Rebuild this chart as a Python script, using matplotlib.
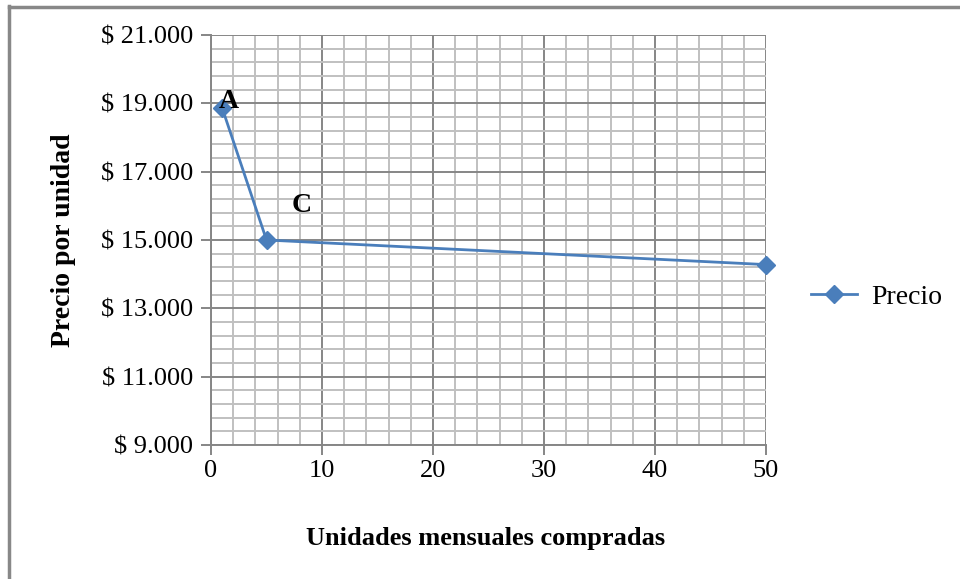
import matplotlib
matplotlib.use("Agg")
import matplotlib.pyplot as plt
from matplotlib.ticker import MultipleLocator, FuncFormatter
from matplotlib.lines import Line2D

units = [1, 5, 50]
prices = [18870, 15000, 14280]
series_name = "Precio"
point_labels = ["A", "C"]

plt.rcParams['font.family'] = ['Liberation Serif', 'DejaVu Serif']

fig = plt.figure(figsize=(9.6, 5.79), dpi=100)
ax = fig.add_axes([211/960, 1-445/579, (766-211)/960, (445-35)/579])

blue = '#4A7EBB'
ax.plot(units, prices, color=blue, lw=2, marker='D', markersize=9,
        markerfacecolor=blue, markeredgecolor=blue, label=series_name, zorder=3,
        clip_on=False)

ax.set_xlim(0, 50)
ax.set_ylim(9000, 21000)
ax.xaxis.set_major_locator(MultipleLocator(10))
ax.xaxis.set_minor_locator(MultipleLocator(2))
ax.yaxis.set_major_locator(MultipleLocator(2000, offset=1000))
ax.yaxis.set_minor_locator(MultipleLocator(400, offset=200))
ax.yaxis.set_major_formatter(FuncFormatter(lambda v, p: "$ " + f"{int(round(v)):,}".replace(",", ".")))

ax.grid(which='minor', color='#C0C0C0', lw=1.4, zorder=0)
ax.grid(which='major', color='#868686', lw=1.4, zorder=1)
ax.set_axisbelow(True)
for s in ['top', 'right']:
    ax.spines[s].set_visible(False)
for s in ['left', 'bottom']:
    ax.spines[s].set_color('#868686')
    ax.spines[s].set_linewidth(1.4)
ax.tick_params(which='major', length=7, width=1.4, color='#868686', labelsize=19, pad=6)
ax.tick_params(which='minor', length=0)
ax.tick_params(axis='x', pad=4)

ax.set_xlabel("Unidades mensuales compradas", fontsize=19, fontweight='bold')
ax.set_ylabel("Precio por unidad", fontsize=20, fontweight='bold')
ax.xaxis.set_label_coords((486-211)/555, -(527-445)/410)
ax.yaxis.set_label_coords(-(211-76)/555, 0.5)

ax.text(1.6, 18700, point_labels[0], fontsize=20, fontweight='bold', ha='center', va='bottom')
ax.text(8.15, 15650, point_labels[1], fontsize=20, fontweight='bold', ha='center', va='bottom')

leg = fig.legend(handles=[Line2D([0], [0], color=blue, lw=2, marker='D', markersize=9)],
                 labels=[series_name], loc='center left',
                 bbox_to_anchor=(811/960, 1-297/579), frameon=False, fontsize=20,
                 handlelength=1.65, handletextpad=0.5, borderpad=0, borderaxespad=0)

fig.add_artist(Line2D([9/960, 9/960], [0, 1-6/579], transform=fig.transFigure, color='#888888', lw=2.5))
fig.add_artist(Line2D([9/960, 1], [1-7/579, 1-7/579], transform=fig.transFigure, color='#888888', lw=2.5))

fig.savefig("out.png", dpi=100)
